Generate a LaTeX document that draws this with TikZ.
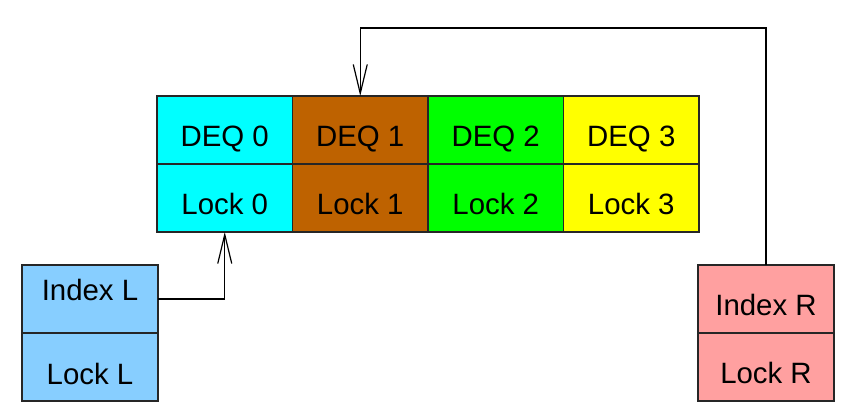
\documentclass[tikz,border=0pt]{standalone}
\usepackage{fontspec}
\setmainfont{Liberation Sans}
\usepackage{tikz}
\usetikzlibrary{arrows.meta,positioning}
\definecolor{deqcyan}{RGB}{0,255,255}
\definecolor{deqbrown}{RGB}{190,98,0}
\definecolor{deqgreen}{RGB}{0,255,0}
\definecolor{deqyellow}{RGB}{255,255,0}
\definecolor{idxblue}{RGB}{135,206,255}
\definecolor{idxpink}{RGB}{255,160,160}

\begin{document}
\begin{tikzpicture}[
    x=0.5pt, y=0.5pt,
    font=\fontsize{14.7pt}{17pt}\selectfont,
    cell/.style={
        draw=black!85,
        line width=0.7pt,
        minimum width=67.75pt,
        minimum height=34pt,
        inner sep=0pt,
        outer sep=0pt,
        text height=16.5pt,
        text depth=0pt
    },
    ibox/.style={
        cell,
        minimum width=68pt
    },
    arrow/.style={-{Straight Barb[length=14.5pt,width=7pt]}, line width=0.6pt}
]
\useasboundingbox (0,0) rectangle (866,418);

% Deque array: top row DEQ, bottom row locks
\node[cell, fill=deqcyan, anchor=north west] (deq0) at (157,322) {DEQ 0};
\node[cell, fill=deqbrown, right=0pt of deq0] (deq1) {DEQ 1};
\node[cell, fill=deqgreen, right=0pt of deq1] (deq2) {DEQ 2};
\node[cell, fill=deqyellow, right=0pt of deq2] (deq3) {DEQ 3};

\node[cell, fill=deqcyan, below=0pt of deq0] (lock0) {Lock 0};
\node[cell, fill=deqbrown, below=0pt of deq1] (lock1) {Lock 1};
\node[cell, fill=deqgreen, below=0pt of deq2] (lock2) {Lock 2};
\node[cell, fill=deqyellow, below=0pt of deq3] (lock3) {Lock 3};

% Left and right indices
\node[ibox, fill=idxblue, anchor=north west, text height=1.5pt] (indexL) at (22,153) {Index L};
\node[ibox, fill=idxblue, below=0pt of indexL, text height=17.5pt] (lockL) {Lock L};

\node[ibox, fill=idxpink, anchor=north west, text height=16pt] (indexR) at (698,153) {Index R};
\node[ibox, fill=idxpink, below=0pt of indexR] (lockR) {Lock R};

\draw[arrow] (indexL.east) -| (lock0.south);
\draw[arrow] (indexR.north) -- ++(0,237) -| (deq1.north);

\end{tikzpicture}
\end{document}
